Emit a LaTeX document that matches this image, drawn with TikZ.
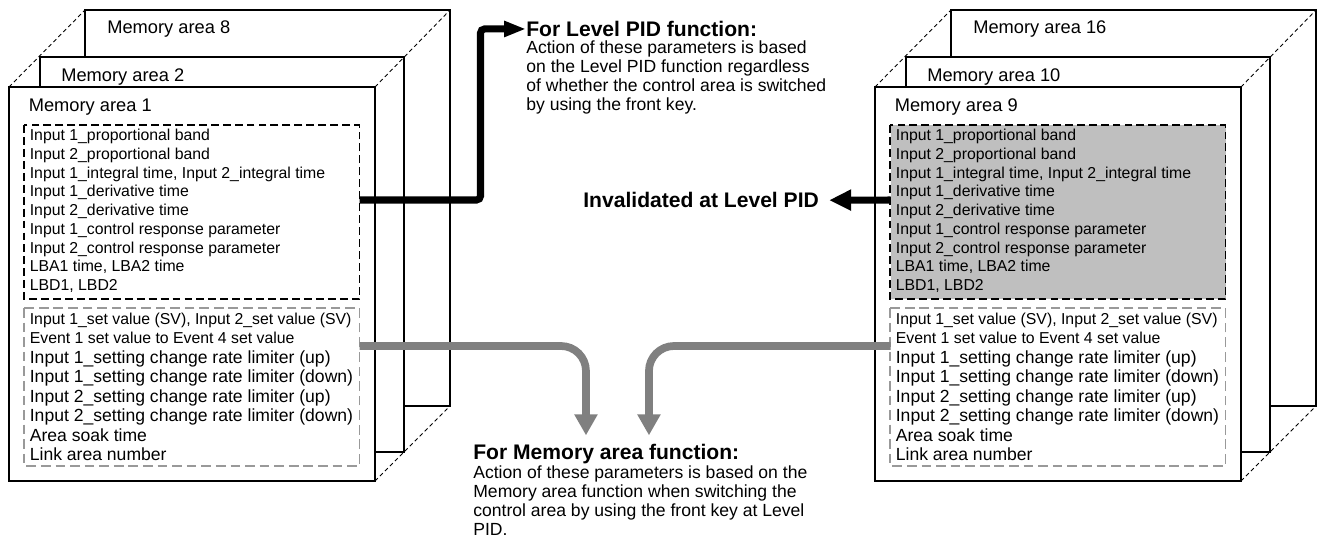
\documentclass[tikz,border=0pt]{standalone}
\usepackage{fontspec}
\setmainfont{Liberation Sans}
\usetikzlibrary{arrows.meta,positioning}

\begin{document}
\begin{tikzpicture}[x=0.02cm,y=-0.02cm,
    box/.style={draw,fill=white,line width=1.1pt},
    edge/.style={line width=0.5pt,dash pattern=on 2.3pt off 1.7pt},
    pidbox/.style={draw,line width=0.9pt,dash pattern=on 4.5pt off 2.3pt},
    memobox/.style={draw=black!40,line width=0.9pt,dash pattern=on 5.5pt off 2.8pt},
    title/.style={anchor=base west,inner sep=0pt,font=\fontsize{10.4}{12}\selectfont},
    small/.style={anchor=base west,inner sep=0pt,font=\fontsize{9}{10}\selectfont},
    item/.style={anchor=base west,inner sep=0pt,font=\fontsize{10}{11}\selectfont},
    head/.style={anchor=base west,inner sep=0pt,font=\fontsize{12}{14}\selectfont\bfseries},
    blk/.style={line width=4pt,rounded corners=0.08cm,-{Triangle[length=0.44cm,width=0.3cm]}},
    blkwide/.style={line width=4pt,-{Triangle[length=0.44cm,width=0.4cm]}},
    gry/.style={draw=black!50,line width=4.4pt,rounded corners=0.5cm,-{Triangle[length=0.42cm,width=0.44cm]}}
  ]
  \useasboundingbox (0,0) rectangle (1319,538);

  % memory area stacks
  \foreach \dx/\a/\b/\c in {0/1/2/8, 866/9/10/16}{
    \draw[box] (\dx+85,10) rectangle (\dx+450,406);
    \node[title] (m\c) at (\dx+107,33.5) {Memory area \c};
    \draw[box] (\dx+40,57) rectangle (\dx+404,452);
    \node[title] (m\b) at (\dx+61,81.5) {Memory area \b};
    \draw[box] (\dx+9,87) rectangle (\dx+375,481);
    \node[title] (m\a) at (\dx+28.5,111.5) {Memory area \a};
    \draw[edge] (\dx+9,87) -- (\dx+85,10) (\dx+375,87) -- (\dx+450,10)
                (\dx+375,481) -- (\dx+450,406);
  }
  \fill[black!25] (890.7,125) rectangle (1226,299);

  % parameter lists
  \foreach \dx in {0,866}{
    \draw[pidbox] (\dx+24,125) rectangle (\dx+359.5,299);
    \draw[memobox] (\dx+24,308) rectangle (\dx+359.5,466);
    \foreach \t [count=\i] in {Input 1\_proportional band, Input 2\_proportional band,
        {Input 1\_integral time, Input 2\_integral time}, Input 1\_derivative time,
        Input 2\_derivative time, Input 1\_control response parameter,
        Input 2\_control response parameter, {LBA1 time, LBA2 time}, {LBD1, LBD2}}
      \node[small] (p\dx-\i) at (\dx+29.5,{140.7+18.75*\i-18.75}) {\t};
    \foreach \s/\t [count=\i] in {small/{Input 1\_set value (SV), Input 2\_set value (SV)},
        small/Event 1 set value to Event 4 set value,
        item/Input 1\_setting change rate limiter (up),
        item/Input 1\_setting change rate limiter (down),
        item/Input 2\_setting change rate limiter (up),
        item/Input 2\_setting change rate limiter (down),
        item/Area soak time, item/Link area number}
      \node[\s] (s\dx-\i) at (\dx+29.5,{324+19.5*\i-19.5}) {\t};
  }

  % explanations
  \node[head] (lvl) at (526,36.5) {For Level PID function:};
  \foreach \t [count=\i] in {Action of these parameters is based,
      on the Level PID function regardless,
      of whether the control area is switched,
      by using the front key.}
    \node[item] (lvl\i) at (526,{53.5+19*\i-19}) {\t};
  \node[head] (inv) at (583,207.7) {Invalidated at Level PID};
  \node[head] (mem) at (473,459) {For Memory area function:};
  \foreach \t [count=\i] in {Action of these parameters is based on the,
      Memory area function when switching the,
      control area by using the front key at Level,
      PID.}
    \node[item] (mem\i) at (473,{478+19.1*\i-19.1}) {\t};

  % connectors
  \coordinate (pidL) at (359.5,200);
  \coordinate (memL) at (359.5,346);
  \coordinate (invR) at (890.7,200);
  \coordinate (memR) at (890.7,346);
  \draw[blk] (pidL) -| ([xshift=-0.91cm]lvl.west) -- (lvl.west);
  \draw[blkwide] (invR) -- ([xshift=0.2cm]inv.east);
  \draw[gry] (memL) -| ([xshift=2.26cm,yshift=0.16cm]mem.north west);
  \draw[gry] (memR) -| ([xshift=3.52cm,yshift=0.16cm]mem.north west);
\end{tikzpicture}
\end{document}
